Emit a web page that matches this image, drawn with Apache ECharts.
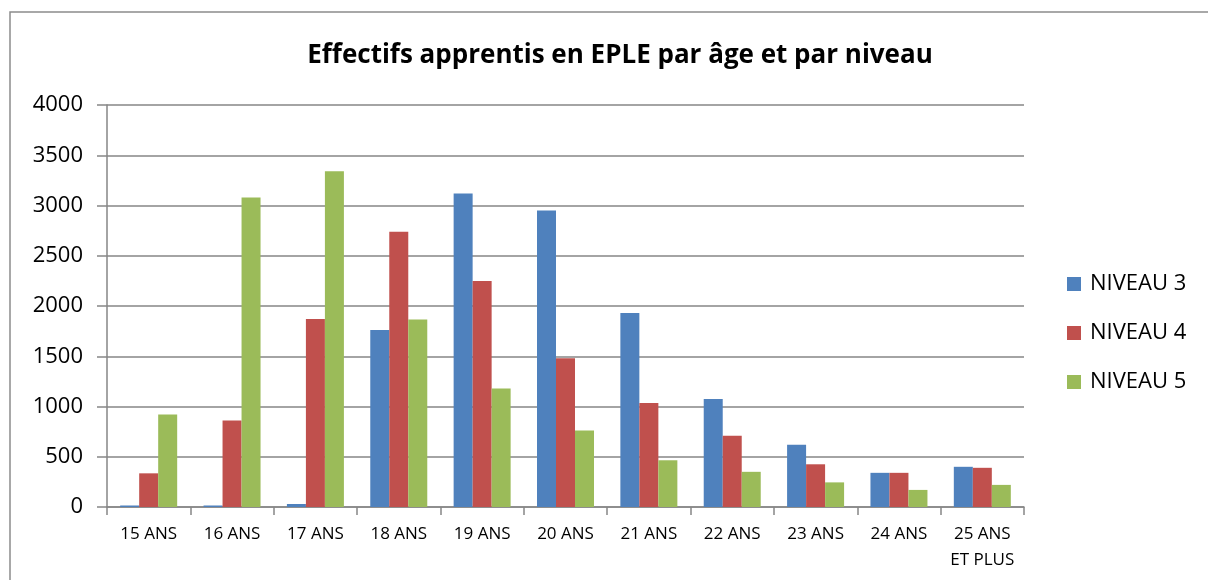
<!DOCTYPE html>
<html>
<head>
<meta charset="utf-8">
<script src="https://cdn.jsdelivr.net/npm/echarts@6/dist/echarts.min.js"></script>
<style>
  html, body { margin: 0; padding: 0; background: #fff; }
  #main { width: 1208px; height: 580px; }
</style>
</head>
<body>
<div id="main"></div>
<script>
// données
var categories = ['15 ANS', '16 ANS', '17 ANS', '18 ANS', '19 ANS', '20 ANS', '21 ANS', '22 ANS', '23 ANS', '24 ANS', '25 ANS\nET PLUS'];
var niveau3 = [15, 15, 30, 1760, 3120, 2950, 1930, 1075, 620, 340, 400];
var niveau4 = [335, 860, 1870, 2740, 2250, 1480, 1035, 710, 425, 340, 390];
var niveau5 = [920, 3080, 3340, 1865, 1180, 760, 465, 350, 245, 170, 220];
var seriesNames = ['NIVEAU 3', 'NIVEAU 4', 'NIVEAU 5'];

var myChart = echarts.init(document.getElementById('main'));
var font = 'Open Sans, Liberation Sans, sans-serif';

var option = {
  animation: false,
  backgroundColor: '#fff',
  color: ['#4F81BD', '#C0504D', '#9BBB59'],
  graphic: [{
    type: 'rect',
    shape: { x: 10, y: 12, width: 1300, height: 700 },
    style: { fill: 'none', stroke: '#8c8c8c', lineWidth: 1.5 },
    silent: true
  }],
  title: {
    text: 'Effectifs apprentis en EPLE par âge et par niveau',
    left: 615,
    textAlign: 'center',
    top: 38,
    textStyle: { fontFamily: font, fontSize: 26, fontWeight: 'bold', color: '#000' }
  },
  legend: {
    orient: 'vertical',
    left: 1062,
    top: 268,
    itemGap: 27,
    itemWidth: 14,
    itemHeight: 14,
    icon: 'rect',
    textStyle: { fontFamily: font, fontSize: 22, lineHeight: 22, color: '#000', padding: [0, 0, 0, 4] },
    data: seriesNames
  },
  grid: { left: 107, right: 184, top: 105, bottom: 73, containLabel: false },
  xAxis: {
    type: 'category',
    data: categories,
    axisLine: { lineStyle: { color: '#868686', width: 1.5 } },
    axisTick: { show: true, length: 8, lineStyle: { color: '#868686', width: 1.5 } },
    axisLabel: { interval: 0, fontFamily: font, fontSize: 17, color: '#000', margin: 14, lineHeight: 26 }
  },
  yAxis: {
    type: 'value',
    min: 0,
    max: 4000,
    interval: 500,
    axisLine: { show: true, lineStyle: { color: '#868686', width: 1.5 } },
    axisTick: { show: true, length: 10, lineStyle: { color: '#868686', width: 1.5 } },
    axisLabel: {
      fontFamily: font, fontSize: 22, color: '#000', margin: 24,
      formatter: function (v) { return String(v); }
    },
    splitLine: { lineStyle: { color: '#868686', width: 1.5 } }
  },
  series: [
    { name: seriesNames[0], type: 'bar', data: niveau3, barWidth: 19, barGap: '0%' },
    { name: seriesNames[1], type: 'bar', data: niveau4, barWidth: 19, barGap: '0%' },
    { name: seriesNames[2], type: 'bar', data: niveau5, barWidth: 19, barGap: '0%' }
  ]
};
myChart.setOption(option);
</script>
</body>
</html>
